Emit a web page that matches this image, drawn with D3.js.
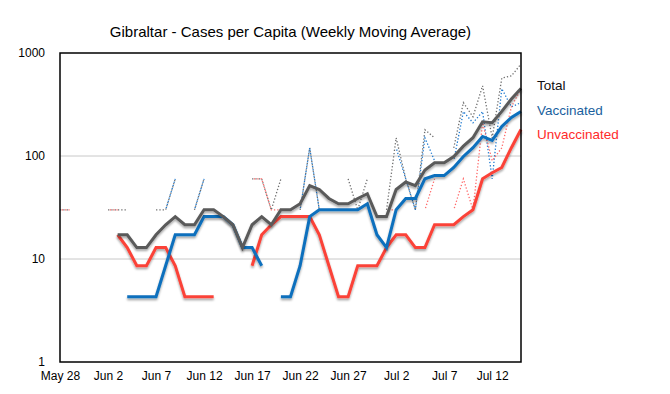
<!DOCTYPE html>
<html>
<head>
<meta charset="utf-8">
<script src="https://cdn.jsdelivr.net/npm/d3@7"></script>
<style>
html,body{margin:0;padding:0;background:#fff;}
svg{display:block;font-family:"Liberation Sans",Arial,Helvetica,sans-serif;}
</style>
</head>
<body>
<svg id="chart" width="670" height="394"></svg>
<script>
// Day 0 = May 28, 2021 ... day 48 = Jul 15, 2021
const startDate = Date.UTC(2021, 4, 28);
const dayCount = 49;

// Weekly moving average (per million), null = no value
const totalAvg = [null,null,null,null,null,null,17.2,17.2,12.9,12.9,17.2,21.5,25.8,21.5,21.5,30.1,30.1,25.8,21.5,12.9,21.5,25.8,21.5,30.1,30.1,34.4,51.6,47.3,38.7,34.4,34.4,38.7,43.0,25.8,25.8,47.3,55.9,51.6,73.1,86.0,86.0,98.9,124.7,150.5,215.0,210.7,270.9,356.9,451.5];
const vaccAvg = [null,null,null,null,null,null,null,4.3,4.3,4.3,4.3,8.6,17.2,17.2,17.2,25.8,25.8,25.8,21.5,12.9,12.9,8.6,null,4.3,4.3,8.6,25.8,30.1,30.1,30.1,30.1,30.1,34.4,17.2,12.9,30.1,38.7,38.7,60.2,64.5,64.5,77.4,98.9,120.4,154.8,141.9,193.5,236.5,270.9];
const unvaccAvg = [null,null,null,null,null,null,17.2,12.9,8.6,8.6,12.9,12.9,8.6,4.3,4.3,4.3,4.3,null,null,null,8.6,17.2,21.5,25.8,25.8,25.8,25.8,17.2,8.6,4.3,4.3,8.6,8.6,8.6,12.9,17.2,17.2,12.9,12.9,21.5,21.5,21.5,25.8,30.1,60.2,68.8,77.4,120.4,180.6];

// Daily values (per million), null = zero / not plotted
const totalDaily = [30,30,null,null,null,30,30,30,null,null,30,30,60,null,30,60,null,null,null,null,60,60,30,60,null,30,120,30,null,null,60,30,60,null,30,150,60,30,180,150,null,120,330,240,480,150,570,600,780];
const vaccDaily = [null,null,null,null,null,null,null,30,null,null,null,30,60,null,30,60,null,null,null,null,null,null,null,30,null,30,120,30,null,null,30,null,60,null,null,120,60,30,150,90,null,90,270,210,270,60,450,300,330];
const unvaccDaily = [30,30,null,null,null,30,30,null,null,null,30,null,null,null,null,null,null,null,null,null,60,60,30,30,null,null,null,null,null,null,30,30,null,null,30,30,null,null,30,60,null,30,60,30,210,90,120,300,450];

const yTicks = [1, 10, 100, 1000];
const xTickDays = [0,5,10,15,20,25,30,35,40,45];

const legendLabels = ["Total", "Vaccinated", "Unvaccinated"];

const svg = d3.select("#chart");
const W = 670, H = 394;
const m = {left: 60, right: 149, top: 53, bottom: 32};
const pw = W - m.left - m.right, ph = H - m.top - m.bottom;

const x = d3.scaleUtc()
  .domain([new Date(startDate), new Date(startDate + 48*86400000)])
  .range([m.left, m.left + pw]);
const y = d3.scaleLog().domain([1, 1000]).range([m.top + ph, m.top]);

const dateOf = i => new Date(startDate + i*86400000);

// shadow filter
const defs = svg.append("defs");
const f = defs.append("filter").attr("id","shadow").attr("x","-5%").attr("y","-10%").attr("width","110%").attr("height","130%");
f.append("feDropShadow").attr("dx",0).attr("dy",2).attr("stdDeviation",1.2)
  .attr("flood-color","#000").attr("flood-opacity",0.35);

// title
svg.append("text").attr("x", m.left + pw/2).attr("y", 37)
  .attr("text-anchor","middle").attr("font-size",15).attr("fill","#000")
  .text("Gibraltar - Cases per Capita (Weekly Moving Average)");

// grid lines
svg.append("g").selectAll("line").data([10,100]).join("line")
  .attr("x1", m.left).attr("x2", m.left + pw)
  .attr("y1", d => y(d)).attr("y2", d => y(d))
  .attr("stroke","#c8c8c8").attr("stroke-width",1);

// y axis labels
const yAxis = d3.axisLeft(y).tickValues(yTicks).tickFormat(d3.format("d")).tickSize(0).tickPadding(15);
const gy = svg.append("g").attr("transform",`translate(${m.left},0)`).call(yAxis);
gy.select(".domain").remove();
gy.selectAll("text").attr("font-size",12).attr("fill","#000").attr("font-family","Liberation Sans, Arial, sans-serif");

// x axis labels
const xAxis = d3.axisBottom(x).tickValues(xTickDays.map(dateOf)).tickFormat(d3.utcFormat("%b %-d")).tickSize(0).tickPadding(9);
const gx = svg.append("g").attr("transform",`translate(0,${m.top+ph})`).call(xAxis);
gx.select(".domain").remove();
gx.selectAll("text").attr("font-size",12).attr("fill","#000").attr("font-family","Liberation Sans, Arial, sans-serif");

const line = d3.line()
  .defined(d => d.v != null)
  .x(d => x(d.date)).y(d => y(d.v));
const toPts = arr => arr.map((v,i) => ({date: dateOf(i), v}));

const plot = svg.append("g");

// dotted daily lines
const dotted = [
  {data: totalDaily, color: "#6e6e6e", off: 0},
  {data: vaccDaily, color: "#1f7ad0", off: 1.5},
  {data: unvaccDaily, color: "#ff6a6a", off: 1.5}
];
plot.selectAll("path.dot").data(dotted).join("path")
  .attr("class","dot")
  .attr("d", d => line(toPts(d.data)))
  .attr("fill","none").attr("stroke", d => d.color)
  .attr("stroke-width",1.3).attr("stroke-dasharray","1.3,2")
  .attr("stroke-dashoffset", d => d.off);

// solid averages
const solid = [
  {data: unvaccAvg, color: "#fb4338"},
  {data: vaccAvg, color: "#0c6fbd"},
  {data: totalAvg, color: "#5a5a5a"}
];
plot.selectAll("path.avg").data(solid).join("path")
  .attr("class","avg")
  .attr("d", d => line(toPts(d.data)))
  .attr("fill","none").attr("stroke", d => d.color)
  .attr("stroke-width",3).attr("stroke-linejoin","miter")
  .attr("filter","url(#shadow)");

// frame
svg.append("rect").attr("x", m.left).attr("y", m.top).attr("width", pw).attr("height", ph)
  .attr("fill","none").attr("stroke","#000").attr("stroke-width",1.5);

// legend
const legColors = ["#111111","#1a5f9e","#ff2a2a"];
svg.append("g").selectAll("text").data(legendLabels).join("text")
  .attr("x", 537).attr("y", (d,i) => 90 + i*24.5)
  .attr("font-size",13.5).attr("fill",(d,i) => legColors[i])
  .text(d => d);
</script>
</body>
</html>
